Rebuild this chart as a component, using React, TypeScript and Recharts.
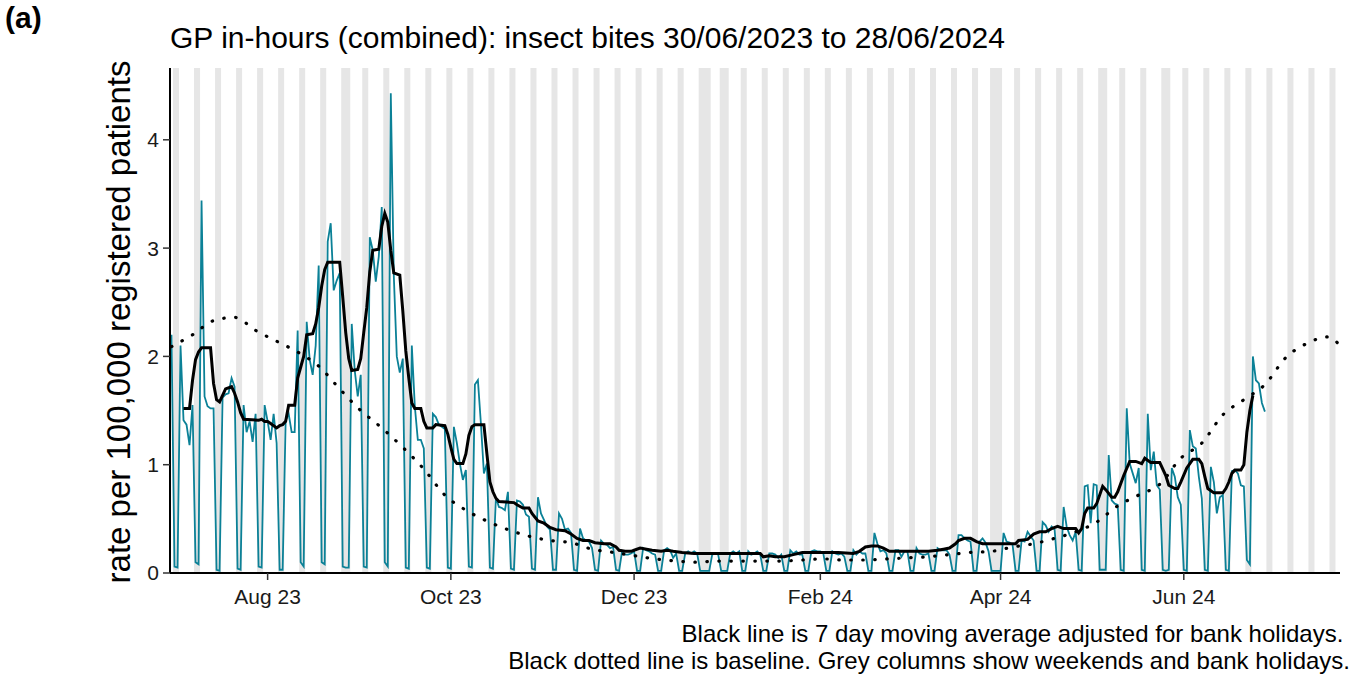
import { Line, LineChart, ReferenceArea, XAxis, YAxis } from "recharts"

// day index 0 = Fri 30/06/2023
const START = Date.UTC(2023, 5, 30)
const DAY = 86400000
const dayOf = (iso: string) => Math.round((Date.parse(iso + "T00:00:00Z") - START) / DAY)

const X_END = 389
const Y_MAX = 4.663

const TICK_DATES = ["2023-08-01", "2023-10-01", "2023-12-01", "2024-02-01", "2024-04-01", "2024-06-01"]
const TICK_LABELS = ["Aug 23", "Oct 23", "Dec 23", "Feb 24", "Apr 24", "Jun 24"]
const Y_TICKS = [0, 1, 2, 3, 4]

const BANK_HOLIDAYS = [
  "2023-08-28", "2023-12-25", "2023-12-26", "2024-01-01",
  "2024-03-29", "2024-04-01", "2024-05-06", "2024-05-27",
]

// daily rate, one row per week (Fri..Thu)
const DAILY_RATE = [
  2.2, 0.06, 0.05, 2.1, 1.41, 1.37, 1.18,
  1.55, 0.1, 0.08, 3.44, 1.63, 1.54, 1.52,
  1.52, 0.03, 0.02, 1.62, 1.65, 1.66, 1.8,
  1.72, 0.04, 0.03, 1.55, 1.3, 1.4, 1.21,
  1.47, 0.06, 0.05, 1.55, 1.4, 1.23, 1.47,
  1.2, 0.03, 0.03, 1.41, 1.47, 1.3, 1.3,
  2.24, 0.1, 0.06, 2.32, 1.97, 1.83, 2.1,
  2.84, 0.1, 0.08, 3.06, 3.23, 2.61, 2.7,
  2.77, 0.06, 0.05, 0.05, 2.3, 1.87, 1.63,
  1.83, 0.06, 0.05, 3.1, 2.98, 2.69, 2.92,
  3.38, 0.1, 0.06, 4.43, 2.75, 2.0, 1.85,
  1.98, 0.05, 0.04, 2.1, 1.54, 1.23, 1.23,
  1.15, 0.05, 0.04, 1.47, 1.44, 1.37, 1.35,
  1.33, 0.05, 0.04, 1.35, 1.2, 1.01, 0.86,
  0.95, 0.06, 0.05, 1.74, 1.78, 1.38, 0.92,
  1.01, 0.05, 0.04, 0.7, 0.61, 0.6, 0.58,
  0.75, 0.04, 0.03, 0.67, 0.66, 0.63, 0.54,
  0.52, 0.04, 0.03, 0.7, 0.55, 0.49, 0.43,
  0.4, 0.03, 0.03, 0.55, 0.5, 0.4, 0.41,
  0.37, 0.03, 0.02, 0.41, 0.32, 0.3, 0.29,
  0.23, 0.03, 0.02, 0.3, 0.27, 0.26, 0.23,
  0.24, 0.03, 0.02, 0.2, 0.17, 0.17, 0.18,
  0.2, 0.02, 0.02, 0.23, 0.21, 0.2, 0.18,
  0.17, 0.02, 0.02, 0.21, 0.23, 0.21, 0.14,
  0.18, 0.02, 0.02, 0.18, 0.2, 0.18, 0.2,
  0.18, 0.02, 0.02, 0.02, 0.02, 0.17, 0.18,
  0.17, 0.02, 0.02, 0.02, 0.18, 0.2, 0.18,
  0.2, 0.02, 0.02, 0.2, 0.17, 0.18, 0.2,
  0.17, 0.02, 0.02, 0.18, 0.18, 0.17, 0.14,
  0.17, 0.02, 0.02, 0.21, 0.18, 0.2, 0.17,
  0.17, 0.02, 0.02, 0.2, 0.21, 0.2, 0.2,
  0.18, 0.02, 0.02, 0.2, 0.18, 0.17, 0.18,
  0.15, 0.02, 0.02, 0.21, 0.17, 0.2, 0.18,
  0.18, 0.02, 0.02, 0.37, 0.27, 0.2, 0.21,
  0.18, 0.02, 0.02, 0.21, 0.21, 0.15, 0.2,
  0.2, 0.02, 0.02, 0.23, 0.18, 0.17, 0.17,
  0.18, 0.02, 0.02, 0.23, 0.21, 0.21, 0.21,
  0.17, 0.02, 0.02, 0.35, 0.35, 0.32, 0.3,
  0.29, 0.02, 0.02, 0.29, 0.32, 0.28, 0.2,
  0.02, 0.02, 0.02, 0.02, 0.37, 0.29, 0.28,
  0.26, 0.02, 0.02, 0.3, 0.29, 0.38, 0.34,
  0.3, 0.02, 0.02, 0.47, 0.44, 0.38, 0.43,
  0.4, 0.03, 0.02, 0.61, 0.43, 0.35, 0.3,
  0.38, 0.03, 0.02, 0.8, 0.81, 0.46, 0.82,
  0.81, 0.03, 0.03, 0.03, 1.09, 0.67, 0.64,
  0.63, 0.03, 0.02, 1.52, 1.01, 0.92, 0.83,
  0.97, 0.03, 0.02, 1.47, 0.95, 1.12, 0.81,
  0.77, 0.03, 0.02, 0.03, 0.97, 0.89, 0.7,
  0.63, 0.03, 0.02, 1.32, 1.17, 1.15, 0.89,
  0.69, 0.03, 0.02, 0.98, 0.84, 0.55, 0.7,
  0.72, 0.03, 0.02, 0.94, 0.95, 0.92, 0.81,
  0.8, 0.12, 0.08, 2.0, 1.78, 1.75, 1.57,
  1.49,
]

// 7 day moving average [day, rate]
const MOVING_AVG: [number, number][] = [
  [4, 1.52], [6, 1.52], [7, 1.78], [8, 1.97], [9, 2.04], [10, 2.08], [13, 2.08], [14, 1.75],
  [15, 1.6], [16, 1.58], [17, 1.64], [18, 1.7], [20, 1.72], [21, 1.66], [22, 1.58], [23, 1.48],
  [24, 1.42], [29, 1.41], [30, 1.42], [31, 1.4], [32, 1.4], [33, 1.38], [35, 1.34], [36, 1.36],
  [37, 1.37], [38, 1.4], [39, 1.55], [41, 1.55], [42, 1.8], [43, 1.9], [44, 2.0], [45, 2.2],
  [47, 2.21], [48, 2.3], [49, 2.45], [50, 2.65], [51, 2.8], [52, 2.87], [56, 2.87], [57, 2.55],
  [58, 2.22], [59, 1.98], [60, 1.87], [62, 1.88], [63, 1.98], [64, 2.22], [65, 2.45], [66, 2.78],
  [67, 2.98], [69, 2.99], [70, 3.2], [71, 3.32], [72, 3.24], [73, 2.98], [74, 2.77], [76, 2.75],
  [77, 2.42], [78, 2.05], [79, 1.8], [80, 1.57], [81, 1.52], [83, 1.52], [84, 1.4], [85, 1.34],
  [87, 1.34], [88, 1.37], [91, 1.36], [92, 1.28], [93, 1.16], [94, 1.05], [95, 1.01], [97, 1.01],
  [98, 1.1], [99, 1.27], [100, 1.35], [101, 1.37], [104, 1.37], [105, 1.1], [106, 0.84], [107, 0.75],
  [108, 0.69], [109, 0.66], [114, 0.65], [115, 0.63], [117, 0.6], [119, 0.6], [120, 0.55], [122, 0.48],
  [124, 0.46], [126, 0.42], [128, 0.4], [131, 0.39], [133, 0.36], [135, 0.32], [137, 0.3], [139, 0.3],
  [141, 0.28], [144, 0.27], [146, 0.27], [148, 0.24], [149, 0.21], [151, 0.2], [153, 0.2], [154, 0.21],
  [156, 0.23], [160, 0.21], [163, 0.2], [165, 0.21], [167, 0.2], [170, 0.19], [174, 0.18], [196, 0.18],
  [197, 0.15], [199, 0.16], [201, 0.15], [204, 0.15], [207, 0.17], [210, 0.19], [222, 0.19], [227, 0.18],
  [229, 0.2], [231, 0.24], [233, 0.25], [235, 0.25], [237, 0.23], [239, 0.2], [252, 0.2], [255, 0.21],
  [257, 0.22], [259, 0.23], [261, 0.27], [262, 0.3], [264, 0.32], [266, 0.32], [268, 0.29], [270, 0.27],
  [281, 0.27], [282, 0.3], [285, 0.31], [287, 0.36], [289, 0.38], [291, 0.38], [293, 0.41], [295, 0.43],
  [297, 0.41], [301, 0.41], [302, 0.37], [303, 0.41], [304, 0.55], [305, 0.6], [307, 0.6], [308, 0.64],
  [310, 0.8], [311, 0.77], [313, 0.7], [314, 0.7], [315, 0.75], [317, 0.9], [319, 1.03], [321, 1.03],
  [323, 1.01], [324, 1.06], [326, 1.02], [329, 1.02], [331, 0.9], [332, 0.81], [334, 0.78], [335, 0.78],
  [336, 0.84], [338, 0.97], [340, 1.05], [342, 1.05], [343, 1.01], [344, 0.89], [345, 0.78], [347, 0.74],
  [350, 0.74], [351, 0.78], [352, 0.84], [353, 0.92], [354, 0.95], [356, 0.95], [357, 1.0], [358, 1.3],
  [359, 1.5], [360, 1.64],
]

// baseline [day, rate]
const BASELINE: [number, number][] = [
  [0, 2.09], [7, 2.2], [14, 2.33], [21, 2.36], [28, 2.24], [35, 2.14], [42, 2.04], [49, 1.91],
  [56, 1.7], [63, 1.5], [70, 1.34], [77, 1.16], [84, 0.96], [91, 0.72], [98, 0.58], [105, 0.48],
  [112, 0.4], [119, 0.34], [126, 0.3], [133, 0.28], [140, 0.22], [147, 0.19], [154, 0.16], [161, 0.13],
  [168, 0.11], [175, 0.1], [182, 0.11], [189, 0.11], [196, 0.11], [203, 0.11], [210, 0.12], [217, 0.13],
  [224, 0.12], [231, 0.12], [238, 0.13], [245, 0.14], [252, 0.15], [259, 0.17], [266, 0.19], [273, 0.2],
  [280, 0.24], [287, 0.27], [294, 0.32], [301, 0.38], [308, 0.47], [315, 0.62], [322, 0.72], [329, 0.82],
  [336, 1.06], [343, 1.2], [350, 1.46], [357, 1.6], [364, 1.74], [371, 1.99], [378, 2.12], [385, 2.18],
  [389, 2.1],
]

const FONT = "'Liberation Sans', Arial, sans-serif"

// weekends + bank holidays as grey spans
function greySpans() {
  const bh = new Set(BANK_HOLIDAYS.map(dayOf))
  const spans: [number, number][] = []
  let open: number | null = null
  for (let d = 0; d <= X_END + 1; d++) {
    const wd = new Date(START + d * DAY).getUTCDay()
    const grey = d <= X_END && (wd === 0 || wd === 6 || bh.has(d))
    if (grey && open === null) open = d
    if (!grey && open !== null) {
      spans.push([open - 0.5, d - 0.5])
      open = null
    }
  }
  return spans
}

export default function App() {
  const rate = DAILY_RATE.map((v, d) => ({ d, v }))
  const ma = MOVING_AVG.map(([d, v]) => ({ d, v }))
  const base = BASELINE.map(([d, v]) => ({ d, v }))
  const ticks = TICK_DATES.map(dayOf)
  const spans = greySpans()

  return (
    <div style={{ position: "relative", width: 1367, height: 675, fontFamily: FONT, background: "#fff" }}>
      <style>{`body{margin:0}`}</style>
      <div style={{ position: "absolute", left: 5, top: 3, fontSize: 30, lineHeight: "30px", fontWeight: "bold" }}>(a)</div>
      <div style={{ position: "absolute", left: 170, top: 23, fontSize: 30, lineHeight: "30px", color: "#000", whiteSpace: "nowrap" }}>
        GP in-hours (combined): insect bites 30/06/2023 to 28/06/2024
      </div>
      <div style={{
        position: "absolute", left: 118.5 - 300, top: 322 - 20, width: 600, height: 40, lineHeight: "40px",
        fontSize: 33, textAlign: "center", transform: "rotate(-90deg)", whiteSpace: "nowrap",
      }}>
        rate per 100,000 registered patients
      </div>
      <LineChart width={1367} height={675} margin={{ top: 68, right: 27, bottom: 62, left: 110 }}
        style={{ position: "absolute", left: 0, top: 0 }}>
        <XAxis dataKey="d" type="number" domain={[-0.5, X_END]} allowDataOverflow ticks={ticks}
          tickFormatter={(t) => TICK_LABELS[ticks.indexOf(t)] ?? ""} height={40}
          tickSize={7} tickMargin={9} axisLine={{ stroke: "#000", strokeWidth: 2 }}
          tickLine={{ stroke: "#333", strokeWidth: 1.5 }}
          tick={{ fill: "#1a1a1a", fontSize: 21, fontFamily: FONT }} />
        <YAxis type="number" domain={[0, Y_MAX]} allowDataOverflow ticks={Y_TICKS} width={60}
          tickSize={7} tickMargin={4} axisLine={{ stroke: "#000", strokeWidth: 2 }}
          tickLine={{ stroke: "#333", strokeWidth: 1.5 }}
          tick={{ fill: "#1a1a1a", fontSize: 21, fontFamily: FONT }} />
        {spans.map(([a, b]) => (
          <ReferenceArea key={a} x1={Math.max(a, -0.5)} x2={Math.min(b, X_END)} y1={0} y2={Y_MAX}
            fill="#e6e6e6" fillOpacity={1} stroke="none" ifOverflow="hidden" />
        ))}
        <Line data={rate} dataKey="v" type="linear" stroke="#0b8197" strokeWidth={1.8} dot={false} isAnimationActive={false} />
        <Line data={ma} dataKey="v" type="linear" stroke="#000" strokeWidth={3} dot={false} isAnimationActive={false} />
        <Line data={base} dataKey="v" type="monotone" stroke="#000" strokeWidth={3.2} strokeLinecap="round"
          strokeDasharray="0.5 11.5" dot={false} isAnimationActive={false} />
      </LineChart>
      <div style={{
        position: "absolute", right: 1367 - 1350, top: 620, fontSize: 24, lineHeight: "27px",
        textAlign: "right", whiteSpace: "pre", color: "#000",
      }}>
        {"Black line is 7 day moving average adjusted for bank holidays. \nBlack dotted line is baseline. Grey columns show weekends and bank holidays."}
      </div>
    </div>
  )
}
